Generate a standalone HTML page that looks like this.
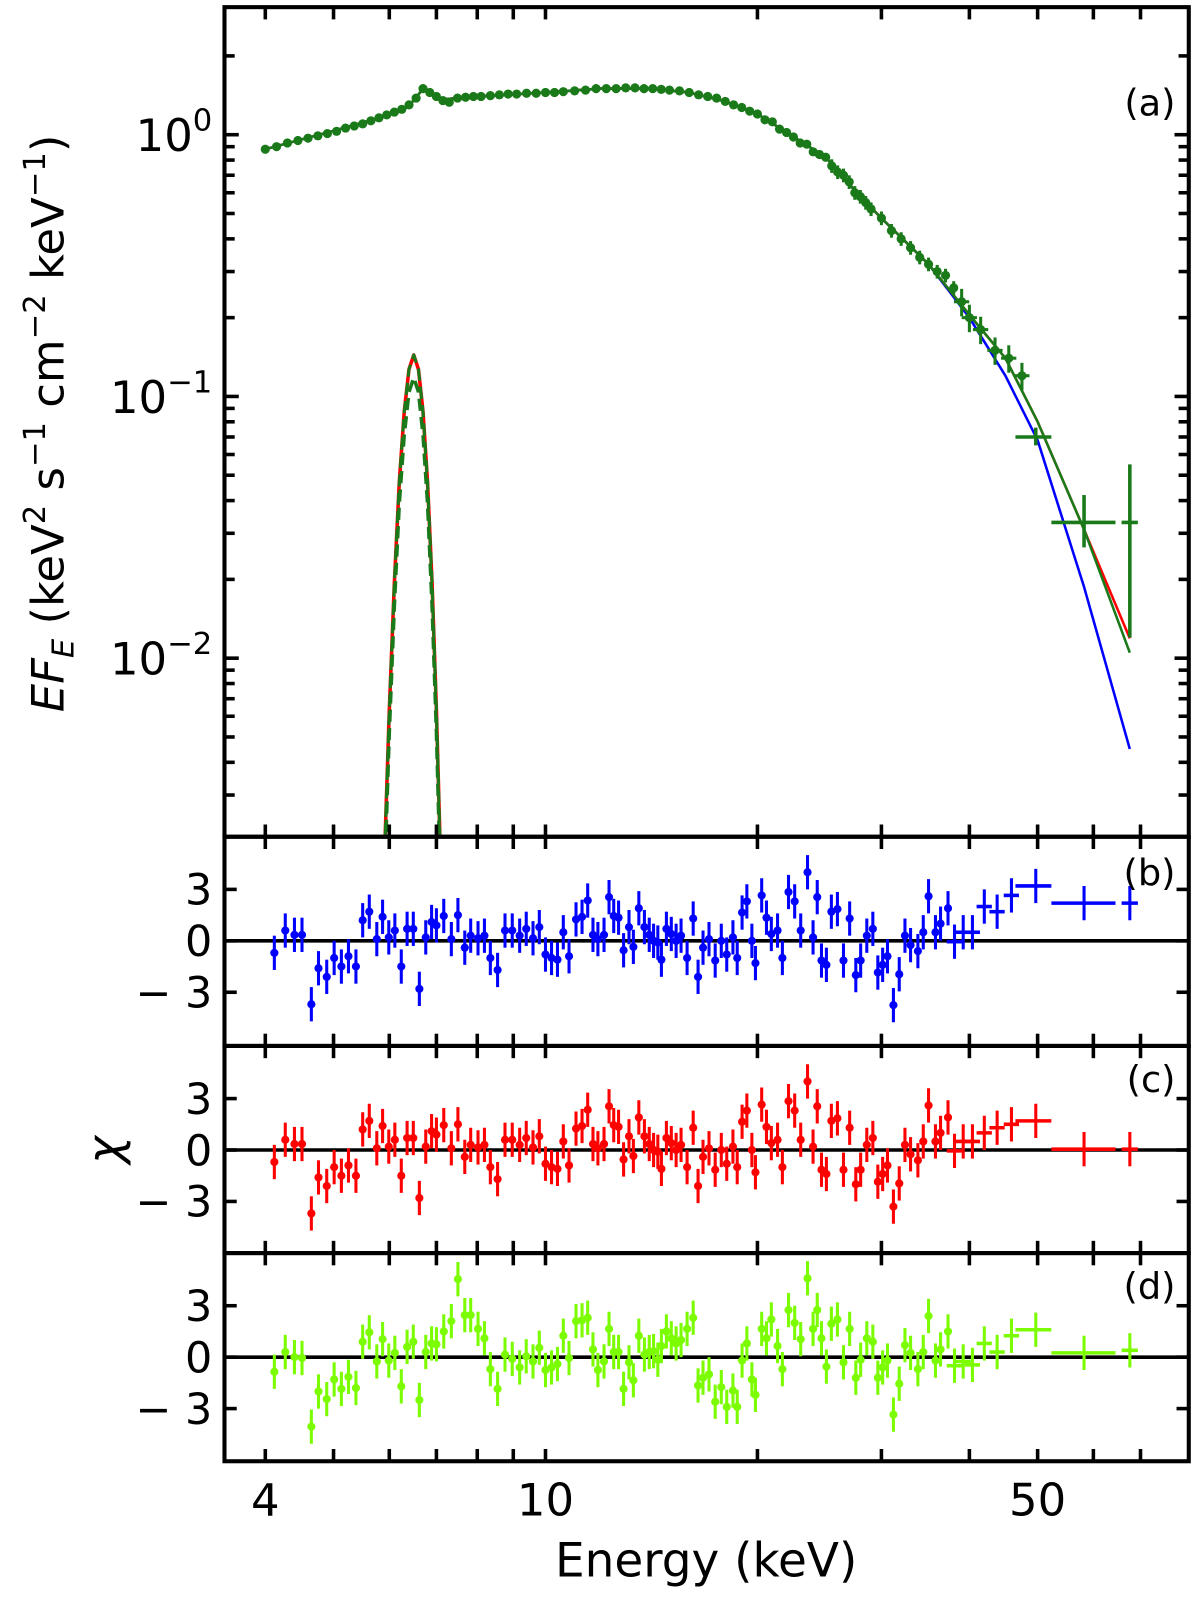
<!DOCTYPE html>
<html><head><meta charset="utf-8">
<style>
html,body{margin:0;padding:0;background:#fff;width:100%;height:100%;overflow:hidden;}
svg{position:absolute;left:0;top:0;width:100vw;height:100vh;display:block;font-family:"DejaVu Sans","Liberation Sans",sans-serif;}
</style></head>
<body>
<svg id="chart" viewBox="0 0 1176 1567" preserveAspectRatio="none" xmlns="http://www.w3.org/2000/svg">
<defs>
<clipPath id="clipA"><rect x="220" y="9" width="945" height="809"/></clipPath>
<clipPath id="clipB"><rect x="220" y="822" width="945" height="201"/></clipPath>
<clipPath id="clipC"><rect x="220" y="1027" width="945" height="199"/></clipPath>
<clipPath id="clipD"><rect x="220" y="1230" width="945" height="200"/></clipPath>
</defs>
<g id="layer"></g>
<text transform="translate(62,415) rotate(-90)" text-anchor="middle" font-size="44"><tspan font-style="italic">EF</tspan><tspan font-style="italic" font-size="30" dy="10">E</tspan><tspan dy="-10"> (keV</tspan><tspan font-size="30" dy="-18">2</tspan><tspan dy="18"> s</tspan><tspan font-size="30" dy="-18">−1</tspan><tspan dy="18"> cm</tspan><tspan font-size="30" dy="-18">−2</tspan><tspan dy="18"> keV</tspan><tspan font-size="30" dy="-18">−1</tspan><tspan dy="18">)</tspan></text>
<text transform="translate(118,1127) rotate(-90)" text-anchor="middle" font-size="46" font-style="italic">χ</text>
<text x="692" y="1545" text-anchor="middle" font-size="46">Energy (keV)</text>
</svg>
<script>
// ---- data ----
const resE = [4.12,4.27,4.40,4.51,4.65,4.76,4.89,5.01,5.13,5.25,5.38,5.50,5.62,5.76,5.87,5.99,6.11,6.24,6.36,6.49,6.62,6.76,6.89,7.00,7.17,7.35,7.51,7.68,7.83,8.02,8.19,8.35,8.55,8.76,8.97,9.19,9.39,9.60,9.80,10.0,10.2,10.4,10.6,10.8,11.05,11.27,11.48,11.68,11.87,12.11,12.31,12.50,12.70,12.91,13.14,13.33,13.57,13.82,14.04,14.24,14.44,14.61,14.85,15.09,15.33,15.58,15.89,16.21,16.47,16.74,17.07,17.42,17.77,18.09,18.46,18.72,19.02,19.32,19.64,19.87,20.28,20.60,20.93,21.36,21.70,22.14,22.59,23.04,23.56,23.99,24.32,24.66,25.06,25.47,25.98,26.50,27.04,27.59,28.03,28.60,29.17,29.65,30.12,30.6,31.2,31.8,32.4,33.0,33.8,34.4,35.0,35.8,36.4,37.3,38.1,39.2,40.4,42.0,43.8,45.9,49.7,58.2,67.6];
const resB = [-0.7,0.6,0.35,0.35,-3.7,-1.6,-2.1,-1.0,-1.5,-0.9,-1.5,1.2,1.7,0.1,1.4,0.2,0.6,-1.5,0.7,0.7,-2.8,0.2,1.1,0.9,1.45,0.1,1.5,-0.4,0.3,0.15,0.3,-1.0,-1.7,0.6,0.6,0.3,0.7,0.15,0.8,-0.8,-1.0,-1.1,0.5,-0.9,1.25,1.4,2.35,0.35,0.1,0.35,2.55,1.45,1.35,-0.55,0.8,-0.35,1.9,0.8,0.35,0,-0.1,-1.1,0.7,0.4,0,0.3,-1.0,1.3,-2.1,-0.4,0.1,-1.15,0,-0.8,0.2,-1.0,1.65,2.3,0,-1.3,2.65,1.35,0.4,0.6,-1.0,2.85,2.3,0.6,4.0,0.2,2.55,-1.15,-1.4,1.7,1.85,-1.15,1.3,-2.0,-1.15,0.3,0.7,-1.85,-1.4,-0.9,-3.75,-1.95,0.3,-0.25,-0.6,0.5,2.6,0.5,1.0,1.9,-0.05,0.5,0.5,2.0,1.7,2.65,3.2,2.2,2.2,1.4];
const resC = [-0.7,0.6,0.35,0.35,-3.7,-1.6,-2.1,-1.0,-1.5,-0.9,-1.5,1.2,1.7,0.1,1.4,0.2,0.6,-1.5,0.7,0.7,-2.8,0.2,1.1,0.9,1.45,0.1,1.5,-0.4,0.3,0.15,0.3,-1.0,-1.7,0.6,0.6,0.3,0.7,0.15,0.8,-0.8,-1.0,-1.1,0.5,-0.9,1.25,1.4,2.35,0.35,0.1,0.35,2.55,1.45,1.35,-0.55,0.8,-0.35,1.9,0.8,0.35,0,-0.1,-1.1,0.7,0.4,0,0.3,-1.0,1.3,-2.1,-0.4,0.1,-1.15,0,-0.8,0.2,-1.0,1.65,2.3,0,-1.3,2.65,1.35,0.4,0.6,-1.0,2.85,2.3,0.6,4.0,0.2,2.55,-1.15,-1.4,1.7,1.85,-1.15,1.3,-2.0,-1.15,0.3,0.7,-1.85,-1.4,-0.9,-3.3,-1.95,0.3,-0.25,-0.6,0.5,2.6,0.5,1.0,1.9,-0.05,0.5,0.5,1.0,1.3,1.5,1.7,0.05,0.05,1.1];
const resD = [-0.85,0.3,0,-0.05,-4.05,-2.0,-2.45,-1.3,-1.85,-1.15,-1.8,0.9,1.45,-0.25,1.05,-0.2,0.25,-1.7,0.6,0.9,-2.5,0.3,0.8,0.75,1.5,2.1,4.55,2.45,2.45,1.65,1.1,-0.7,-1.85,0.15,-0.1,-0.6,0.05,-0.25,0.55,-0.75,-0.6,-0.4,1.25,-0.05,2.1,2.15,2.3,0.45,-0.75,-0.25,1.65,0.3,0.3,-1.85,-0.3,-1.35,1.25,0.15,0.3,0.35,-0.15,0.65,1.5,1.1,0.8,1.0,1.65,2.3,-1.65,-1.2,-1.0,-2.6,-1.75,-2.9,-1.95,-2.9,-0.2,0.8,-1.3,-2.2,1.65,1.1,2.2,0.65,-0.7,2.75,2.0,1.05,4.6,1.65,2.75,1.1,-0.55,1.95,2.2,-0.3,1.65,-1.2,-0.15,1.1,0.9,-1.2,-0.6,-0.2,-3.35,-1.55,0.7,0.25,-0.7,0.3,2.4,-0.2,0.45,1.5,-0.5,-0.25,-0.45,0.8,0.3,1.25,1.6,0.25,0.4,1.1];
const binLo = [46.5,52.3,65.8];
const binHi = [52.3,64.5,69.4];

const topE = [4.0,4.15,4.3,4.45,4.6,4.75,4.9,5.05,5.2,5.35,5.5,5.65,5.8,5.95,6.1,6.25,6.4,6.55,6.7,6.85,7.0,7.15,7.3,7.5,7.7,7.9,8.1,8.35,8.6,8.85,9.1,9.4,9.7,10.0,10.3,10.6,11.0,11.4,11.8,12.2,12.6,13.0,13.4,13.8,14.2,14.6,15.0,15.5,16.0,16.5,17.0,17.5,18.0,18.5,19.0,19.5,20.0,20.5,21.0,21.5,22.0,22.5,23.0,23.5,24.0,24.5,25.0,25.5,26,26.5,27,27.5,28,28.5,29,30,31,32,33,34,35,36,37,38,39,40,41.5,43.5,45.5,47.5,49.7,58.2,67.6];
const topV = [0.88,0.90,0.93,0.95,0.97,0.99,1.01,1.03,1.06,1.08,1.10,1.13,1.16,1.19,1.22,1.25,1.30,1.38,1.50,1.45,1.40,1.35,1.33,1.38,1.39,1.40,1.40,1.41,1.42,1.43,1.43,1.44,1.44,1.45,1.45,1.46,1.47,1.48,1.50,1.50,1.50,1.51,1.51,1.50,1.50,1.49,1.48,1.47,1.45,1.42,1.40,1.38,1.34,1.30,1.27,1.23,1.20,1.14,1.12,1.05,1.02,0.98,0.93,0.92,0.86,0.84,0.82,0.76,0.72,0.70,0.66,0.60,0.58,0.55,0.52,0.48,0.43,0.40,0.37,0.34,0.32,0.30,0.29,0.26,0.23,0.20,0.18,0.15,0.14,0.12,0.070,0.033,0.033];
const topErrLo = [0.065,0.0265,0.012];
const topErrHi = [0.076,0.042,0.055];

const modelE = [4,5,6,6.3,6.5,6.7,6.9,7.1,7.5,8,10,12,14,16,18,20,22,25,28,30,35,40,45,50,58.2,67.6];
const modelBlue = [0.88,1.035,1.19,1.25,1.35,1.50,1.43,1.36,1.38,1.40,1.45,1.50,1.50,1.45,1.34,1.20,1.02,0.82,0.58,0.48,0.32,0.20,0.12,0.068,0.0187,0.0045];
const modelRed = [0.88,1.035,1.19,1.25,1.35,1.50,1.43,1.36,1.38,1.40,1.45,1.50,1.50,1.45,1.34,1.20,1.02,0.82,0.58,0.48,0.32,0.205,0.14,0.08,0.031,0.0119];
const modelGreen = [0.88,1.035,1.19,1.25,1.35,1.50,1.43,1.36,1.38,1.40,1.45,1.50,1.50,1.45,1.34,1.20,1.02,0.82,0.58,0.48,0.32,0.205,0.14,0.08,0.031,0.0105];

const lineE = [5.85,5.9,6.0,6.1,6.2,6.3,6.4,6.5,6.6,6.7,6.8,6.9,7.0,7.1,7.15];
const lineRed = [0.0008,0.0016,0.0063,0.0195,0.047,0.087,0.127,0.144,0.127,0.087,0.047,0.0195,0.0063,0.0016,0.0008];
const lineGreen = [0.0007,0.0013,0.0052,0.016,0.039,0.071,0.104,0.118,0.104,0.071,0.039,0.016,0.0052,0.0013,0.0007];

const xTicks = [4,5,6,7,8,9,10,20,30,40,50,60,70];
const xLabels = ["4","10","50"];
const resTicks = [-3,0,3];
const resTickLabels = ["−3","0","3"];

// ---- axes ----
const L = 220, R = 1165;
const X = e => 260 + 690 * Math.log10(e / 4);
const YT = v => 132 - 256.5 * Math.log10(v);
const panels = [
  {name:'b', top:820, bot:1025, zero:922, clip:'clipB', data:resB, color:'#0000ff'},
  {name:'c', top:1025, bot:1228, zero:1127, clip:'clipC', data:resC, color:'#ff0000'},
  {name:'d', top:1228, bot:1432, zero:1330, clip:'clipD', data:resD, color:'#7cfc00'}
];
const SCALE = 16.8;

const NS = 'http://www.w3.org/2000/svg';
const layer = document.getElementById('layer');
function mk(tag, attrs, parent) {
  const el = document.createElementNS(NS, tag);
  for (const k in attrs) el.setAttribute(k, attrs[k]);
  (parent || layer).appendChild(el);
  return el;
}
function line(x1,y1,x2,y2,stroke,w,parent){return mk('line',{x1,y1,x2,y2,stroke,'stroke-width':w},parent);}

// ---- panel (a) ----
const gA = mk('g', {'clip-path':'url(#clipA)'});



function poly(E, V, color, w, dash, name) {
  const pts = E.map((e,i) => X(e).toFixed(1) + ',' + YT(V[i]).toFixed(1)).join(' ');
  const p = mk('polyline', {points: pts, fill:'none', stroke: color, 'stroke-width': w, 'stroke-dasharray': dash || 'none', 'stroke-linejoin':'round'}, gA);
  
  
}
poly(lineE, lineRed, '#ff0000', 3.5, null, 'iron-line-red');
poly(lineE, lineGreen, '#1a7a1a', 3.5, '12,6', 'iron-line-green');
poly(lineE, lineRed, '#1a7a1a', 3, '12,6', 'iron-line-red-dash');
poly(modelE, modelBlue, '#0000ff', 2.5, null, 'model-blue');
poly(modelE, modelRed, '#ff0000', 2.5, null, 'model-red');
poly(modelE, modelGreen, '#1a7a1a', 2.5, null, 'model-green');

const nTail = 3;
topE.forEach((e, i) => {
  const g = mk('g', {}, gA);
  
  
  const x = X(e), y = YT(topV[i]);
  const ti = i - (topE.length - nTail);
  if (ti >= 0) {
    line(X(binLo[ti]), y, X(binHi[ti]), y, '#1a7a1a', 3.5, g);
    line(x, YT(topErrLo[ti]), x, YT(topErrHi[ti]), '#1a7a1a', 3.5, g);
  } else {
    const err = e > 38 ? 0.12 : (e > 25 ? 0.06 : 0.025);
    line(x, YT(topV[i]*(1-err)), x, YT(topV[i]*(1+err)), '#1a7a1a', 3, g);
    if (e > 38) line(X(e*0.975), y, X(e*1.025), y, '#1a7a1a', 3, g);
    mk('circle', {cx:x, cy:y, r:4.5, fill:'#1a7a1a'}, g);
  }
});

// ---- residual panels ----
panels.forEach(p => {
  const g = mk('g', {'clip-path':'url(#'+p.clip+')'});
  
  
  const z = line(L, p.zero, R, p.zero, '#000', 3.5, g);
  
  
  const Y = r => p.zero - SCALE * r;
  resE.forEach((e, i) => {
    const pg = mk('g', {}, g);
    
    
    const x = X(e), y = Y(p.data[i]);
    line(x, Y(p.data[i] - 1), x, Y(p.data[i] + 1), p.color, 3, pg);
    const ti = i - (resE.length - nTail);
    if (ti >= 0) {
      line(X(binLo[ti]), y, X(binHi[ti]), y, p.color, 3.5, pg);
    } else if (e > 38) {
      line(X(e*0.975), y, X(e*1.025), y, p.color, 3.5, pg);
    } else {
      mk('circle', {cx:x, cy:y, r:4, fill:p.color}, pg);
    }
  });
});

// ---- frames & ticks ----
const frames = [{top:7, bot:820, name:'a'}].concat(panels.map(p => ({top:p.top, bot:p.bot, name:p.name, zero:p.zero})));
frames.forEach(f => {
  const r = mk('rect', {x:L, y:f.top, width:R-L, height:f.bot-f.top, fill:'none', stroke:'#000', 'stroke-width':4});
  
  
  xTicks.forEach(t => {
    const x = X(t);
    const a = line(x, f.bot, x, f.bot - 12, '#000', 3.5);
    
    
    const b = line(x, f.top, x, f.top + 12, '#000', 3.5);
    
    
  });
});

// top panel y ticks (log)
for (let d = -3; d <= 0; d++) {
  for (let m = 1; m <= 9; m++) {
    const v = m * Math.pow(10, d);
    const y = YT(v);
    if (y < 10 || y > 818) continue;
    const len = m === 1 ? 14 : 10;
    const t1 = line(L, y, L + len, y, '#000', 3.5);
    
    
    const t2 = line(R, y, R - len, y, '#000', 3.5);
    
    
  }
}
[[0,'0'],[-1,'−1'],[-2,'−2']].forEach(([d, s]) => {
  const y = YT(Math.pow(10, d));
  const t = mk('text', {x: 208, y: y + 16, 'text-anchor':'end', 'font-size':44});
  
  
  const a = mk('tspan', {}, t); a.textContent = '10';
  const b = mk('tspan', {'font-size':30, dy:-20}, t); b.textContent = s;
});

// residual y ticks
panels.forEach(p => {
  resTicks.forEach((v, i) => {
    const y = p.zero - SCALE * v;
    const t1 = line(L, y, L + 12, y, '#000', 3.5);
    
    
    const t2 = line(R, y, R - 12, y, '#000', 3.5);
    
    
    const lbl = mk('text', {x: 208, y: y + 15, 'text-anchor':'end', 'font-size':42});
    
    
    lbl.setAttribute('xml:space', 'preserve');
    lbl.textContent = resTickLabels[i].replace('−', '−  ');
  });
});

// x tick labels
[4,10,50].forEach((t, i) => {
  const lbl = mk('text', {x: X(t), y: 1485, 'text-anchor':'middle', 'font-size':44});
  
  
  lbl.textContent = xLabels[i];
});

// panel labels
[['(a)', 113], ['(b)', 868], ['(c)', 1070], ['(d)', 1273]].forEach(([s, y]) => {
  const t = mk('text', {x: 1152, y: y, 'text-anchor':'end', 'font-size':36});
  
  
  t.textContent = s;
});
</script>
</body></html>
